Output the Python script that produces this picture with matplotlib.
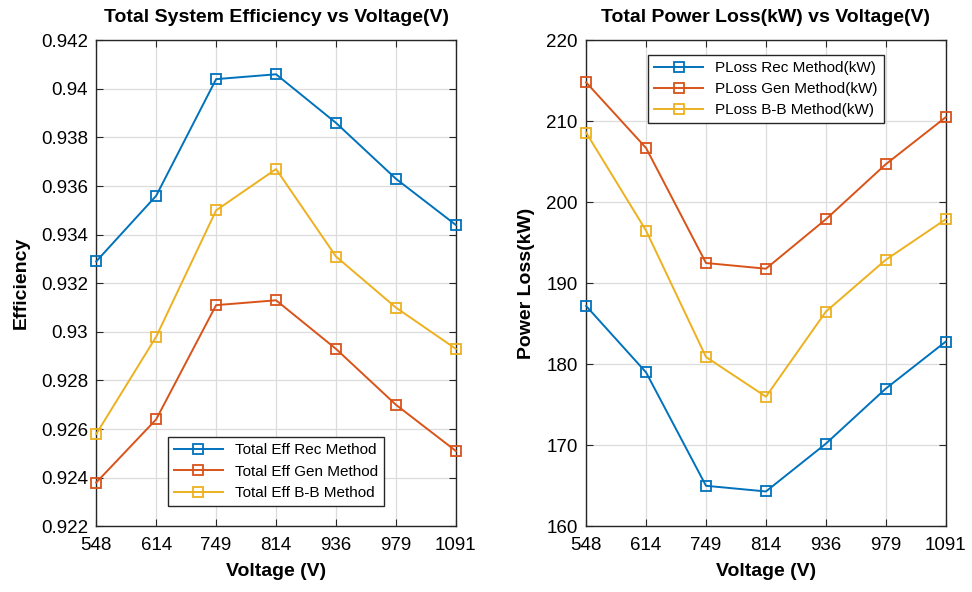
import matplotlib.pyplot as plt

plt.rcParams['font.family'] = ['Liberation Sans', 'DejaVu Sans']

voltages = ['548', '614', '749', '814', '936', '979', '1091']

eff_rec = [0.9329, 0.9356, 0.9404, 0.9406, 0.9386, 0.9363, 0.9344]
eff_gen = [0.9238, 0.9264, 0.9311, 0.9313, 0.9293, 0.9270, 0.9251]
eff_bb = [0.9258, 0.9298, 0.9350, 0.9367, 0.9331, 0.9310, 0.9293]

loss_rec = [187.2, 179.0, 165.0, 164.3, 170.2, 177.0, 182.8]
loss_gen = [214.8, 206.7, 192.5, 191.8, 197.9, 204.7, 210.5]
loss_bb = [208.6, 196.5, 180.9, 176.0, 186.5, 192.9, 197.9]

colors = ['#0072BD', '#D95319', '#EDB120']
x = list(range(len(voltages)))

fig = plt.figure(figsize=(9.72, 5.92), dpi=100)
ax1 = fig.add_axes([0.099, 0.111, 0.370, 0.821])
ax2 = fig.add_axes([0.603, 0.111, 0.370, 0.821])

mk = dict(marker='s', markersize=7, markerfacecolor='none', markeredgewidth=1.3,
          linewidth=1.4, clip_on=False, zorder=3)

ax1.plot(x, eff_rec, color=colors[0], label='Total Eff Rec Method', **mk)
ax1.plot(x, eff_gen, color=colors[1], label='Total Eff Gen Method', **mk)
ax1.plot(x, eff_bb, color=colors[2], label='Total Eff B-B Method', **mk)
ax1.set_ylim(0.922, 0.942)
ax1.set_yticks([0.922 + 0.002 * i for i in range(11)])
ax1.set_yticklabels(['0.922', '0.924', '0.926', '0.928', '0.93', '0.932',
                     '0.934', '0.936', '0.938', '0.94', '0.942'])
ax1.set_title('Total System Efficiency vs Voltage(V)', fontweight='bold', fontsize=14, pad=13)
ax1.set_ylabel('Efficiency', fontweight='bold', fontsize=14, labelpad=8)
ax1.legend(loc='lower center', bbox_to_anchor=(0.5, 0.025), fontsize=11,
           fancybox=False, edgecolor='#262626', framealpha=1, handlelength=3.2,
           borderpad=0.4, labelspacing=0.5)

ax2.plot(x, loss_rec, color=colors[0], label='PLoss Rec Method(kW)', **mk)
ax2.plot(x, loss_gen, color=colors[1], label='PLoss Gen Method(kW)', **mk)
ax2.plot(x, loss_bb, color=colors[2], label='PLoss B-B Method(kW)', **mk)
ax2.set_ylim(160, 220)
ax2.set_yticks(range(160, 221, 10))
ax2.set_title('Total Power Loss(kW) vs Voltage(V)', fontweight='bold', fontsize=14, pad=13)
ax2.set_ylabel('Power Loss(kW)', fontweight='bold', fontsize=14, labelpad=8)
ax2.legend(loc='upper center', bbox_to_anchor=(0.5, 0.985), fontsize=11,
           fancybox=False, edgecolor='#262626', framealpha=1, handlelength=3.2,
           borderpad=0.4, labelspacing=0.45)

for ax in (ax1, ax2):
    ax.set_xlim(0, len(voltages) - 1)
    ax.set_xticks(x)
    ax.set_xticklabels(voltages)
    ax.set_xlabel('Voltage (V)', fontweight='bold', fontsize=14, labelpad=6)
    ax.grid(True, color='#dcdcdc', linewidth=0.9)
    ax.tick_params(labelsize=13.5, direction='in', top=True, right=True, length=5,
                   color='#262626')
    ax.tick_params(axis='x', pad=8)
    ax.tick_params(axis='y', pad=6)
    for s in ax.spines.values():
        s.set_color('#262626')
        s.set_linewidth(1.0)

fig.savefig('out.png', dpi=100)
